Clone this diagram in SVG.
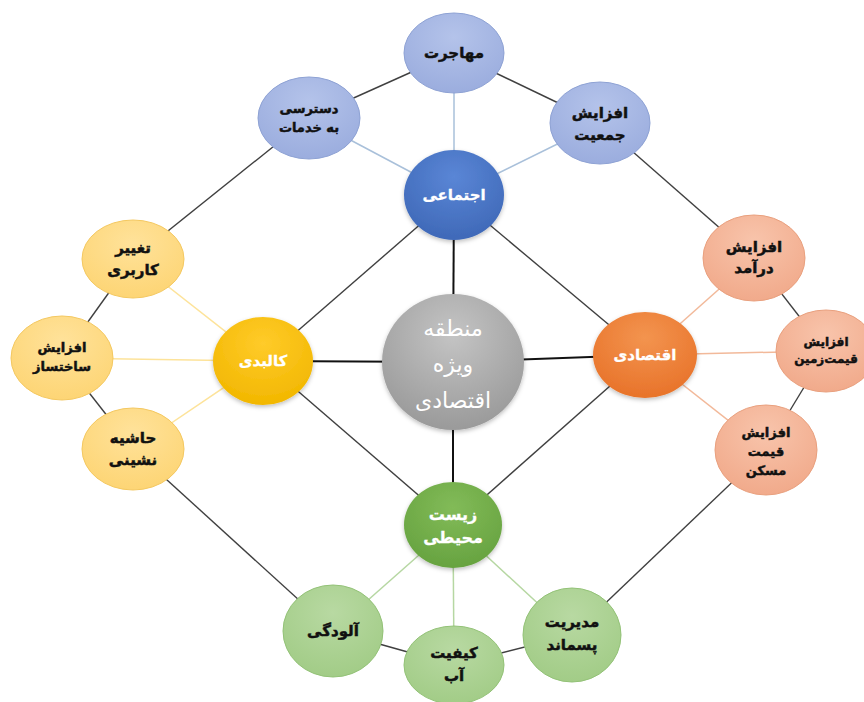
<svg xmlns="http://www.w3.org/2000/svg" width="864" height="702" viewBox="0 0 864 702">
<defs>
<radialGradient id="gCenter" cx="50%" cy="30%" r="70%"><stop offset="0" stop-color="#c4c4c4"/><stop offset="1" stop-color="#9a9a9a"/></radialGradient>
<radialGradient id="gBlue" cx="50%" cy="30%" r="70%"><stop offset="0" stop-color="#5a86d6"/><stop offset="1" stop-color="#3f69b8"/></radialGradient>
<radialGradient id="gBlueL" cx="50%" cy="30%" r="70%"><stop offset="0" stop-color="#b4c3ea"/><stop offset="1" stop-color="#9badde"/></radialGradient>
<radialGradient id="gOrange" cx="50%" cy="30%" r="70%"><stop offset="0" stop-color="#f3944f"/><stop offset="1" stop-color="#e8732a"/></radialGradient>
<radialGradient id="gOrangeL" cx="50%" cy="30%" r="70%"><stop offset="0" stop-color="#f8c4ab"/><stop offset="1" stop-color="#f1aa8b"/></radialGradient>
<radialGradient id="gYellow" cx="50%" cy="30%" r="70%"><stop offset="0" stop-color="#ffcb2a"/><stop offset="1" stop-color="#f2b700"/></radialGradient>
<radialGradient id="gYellowL" cx="50%" cy="30%" r="70%"><stop offset="0" stop-color="#ffe29a"/><stop offset="1" stop-color="#fdd575"/></radialGradient>
<radialGradient id="gGreen" cx="50%" cy="30%" r="70%"><stop offset="0" stop-color="#82bb58"/><stop offset="1" stop-color="#67a340"/></radialGradient>
<radialGradient id="gGreenL" cx="50%" cy="30%" r="70%"><stop offset="0" stop-color="#b8d9a2"/><stop offset="1" stop-color="#a2cc87"/></radialGradient>
<filter id="sh" x="-20%" y="-20%" width="140%" height="150%"><feDropShadow dx="0" dy="2" stdDeviation="2" flood-color="#000" flood-opacity="0.25"/></filter>
</defs>
<style>
.dark{stroke:#404040;stroke-width:1.4;fill:none}
.hub{stroke:#111;stroke-width:2;fill:none}
.lb{stroke:#a9c0da;stroke-width:1.5}
.ly{stroke:#fde39a;stroke-width:1.5}
.lo{stroke:#f2b99a;stroke-width:1.5}
.lg{stroke:#b6d7a2;stroke-width:1.5}
.t{font-family:"DejaVu Sans",sans-serif;font-weight:bold;font-size:14px;fill:#111;stroke:#111;stroke-width:0.5;text-anchor:middle}
.w{fill:#fff;stroke:#fff;stroke-width:0.3;font-size:15px}
.c{font-family:"DejaVu Sans",sans-serif;font-size:22px;fill:#fff;text-anchor:middle}
.sb{stroke:#8ea2d4;stroke-width:1}
.sy{stroke:#f4c860;stroke-width:1}
.so{stroke:#e9a07e;stroke-width:1}
.sg{stroke:#93c277;stroke-width:1}
</style>
<rect width="864" height="702" fill="#fff"/>
<g id="connectors">
<line class="hub" x1="453" y1="362" x2="454" y2="195"/>
<line class="hub" x1="453" y1="362" x2="263" y2="361"/>
<line class="hub" x1="453" y1="362" x2="645" y2="355"/>
<line class="hub" x1="453" y1="362" x2="453" y2="525"/>
<line class="dark" x1="454" y1="195" x2="263" y2="361"/>
<line class="dark" x1="454" y1="195" x2="645" y2="355"/>
<line class="dark" x1="263" y1="361" x2="453" y2="525"/>
<line class="dark" x1="645" y1="355" x2="453" y2="525"/>
<line class="dark" x1="454" y1="53" x2="309" y2="118"/>
<line class="dark" x1="454" y1="53" x2="600" y2="123"/>
<line class="dark" x1="309" y1="118" x2="133" y2="259"/>
<line class="dark" x1="133" y1="259" x2="62" y2="358"/>
<line class="dark" x1="62" y1="358" x2="133" y2="449"/>
<line class="dark" x1="133" y1="449" x2="333" y2="631"/>
<line class="dark" x1="333" y1="631" x2="454" y2="665"/>
<line class="dark" x1="454" y1="665" x2="572" y2="635"/>
<line class="dark" x1="572" y1="635" x2="766" y2="450"/>
<line class="dark" x1="766" y1="450" x2="826" y2="351"/>
<line class="dark" x1="826" y1="351" x2="754" y2="258"/>
<line class="dark" x1="754" y1="258" x2="600" y2="123"/>
<line class="lb" x1="454" y1="195" x2="454" y2="53"/>
<line class="lb" x1="454" y1="195" x2="309" y2="118"/>
<line class="lb" x1="454" y1="195" x2="600" y2="123"/>
<line class="ly" x1="263" y1="361" x2="133" y2="259"/>
<line class="ly" x1="263" y1="361" x2="62" y2="358"/>
<line class="ly" x1="263" y1="361" x2="133" y2="449"/>
<line class="lo" x1="645" y1="355" x2="754" y2="258"/>
<line class="lo" x1="645" y1="355" x2="826" y2="351"/>
<line class="lo" x1="645" y1="355" x2="766" y2="450"/>
<line class="lg" x1="453" y1="525" x2="333" y2="631"/>
<line class="lg" x1="453" y1="525" x2="454" y2="665"/>
<line class="lg" x1="453" y1="525" x2="572" y2="635"/>
</g>
<g id="center">
<ellipse cx="453" cy="362" rx="71" ry="68" fill="url(#gCenter)" filter="url(#sh)"/>
<text class="c" x="453" y="336">منطقه</text>
<text class="c" x="453" y="372">ویژه</text>
<text class="c" x="453" y="408">اقتصادی</text>
</g>
<g id="social">
<ellipse cx="454" cy="195" rx="50" ry="45" fill="url(#gBlue)" filter="url(#sh)"/>
<text class="t w" x="454" y="200">اجتماعی</text>
</g>
<g id="physical">
<ellipse cx="263" cy="361" rx="50" ry="44" fill="url(#gYellow)" filter="url(#sh)"/>
<text class="t w" x="263" y="366">کالبدی</text>
</g>
<g id="economic">
<ellipse cx="645" cy="355" rx="52" ry="43" fill="url(#gOrange)" filter="url(#sh)"/>
<text class="t w" x="645" y="360">اقتصادی</text>
</g>
<g id="environmental">
<ellipse cx="453" cy="525" rx="49" ry="43" fill="url(#gGreen)" filter="url(#sh)"/>
<text class="t w" x="453" y="520" style="font-size:16px">زیست</text>
<text class="t w" x="453" y="543" style="font-size:16px">محیطی</text>
</g>
<g id="migration">
<ellipse class="sb" cx="454" cy="53" rx="50" ry="40" fill="url(#gBlueL)"/>
<text class="t" x="454" y="58" style="font-size:15px">مهاجرت</text>
</g>
<g id="access">
<ellipse class="sb" cx="309" cy="118" rx="51" ry="41" fill="url(#gBlueL)"/>
<text class="t" x="309" y="113" style="font-size:13px">دسترسی</text>
<text class="t" x="309" y="132" style="font-size:13px">به خدمات</text>
</g>
<g id="population">
<ellipse class="sb" cx="600" cy="123" rx="50" ry="41" fill="url(#gBlueL)"/>
<text class="t" x="600" y="118" style="font-size:15px">افزایش</text>
<text class="t" x="600" y="140" style="font-size:15px">جمعیت</text>
</g>
<g id="landuse">
<ellipse class="sy" cx="133" cy="259" rx="51" ry="39" fill="url(#gYellowL)"/>
<text class="t" x="133" y="253" style="font-size:15px">تغییر</text>
<text class="t" x="133" y="275" style="font-size:15px">کاربری</text>
</g>
<g id="construction">
<ellipse class="sy" cx="62" cy="358" rx="51" ry="42" fill="url(#gYellowL)"/>
<text class="t" x="62" y="352" style="font-size:13px">افزایش</text>
<text class="t" x="62" y="371" style="font-size:13px">ساختساز</text>
</g>
<g id="marginal">
<ellipse class="sy" cx="133" cy="449" rx="51" ry="41" fill="url(#gYellowL)"/>
<text class="t" x="133" y="443" style="font-size:15px">حاشیه</text>
<text class="t" x="133" y="465" style="font-size:15px">نشینی</text>
</g>
<g id="income">
<ellipse class="so" cx="754" cy="258" rx="51" ry="43" fill="url(#gOrangeL)"/>
<text class="t" x="754" y="252" style="font-size:15px">افزایش</text>
<text class="t" x="754" y="273" style="font-size:15px">درآمد</text>
</g>
<g id="landprice">
<ellipse class="so" cx="826" cy="351" rx="50" ry="41" fill="url(#gOrangeL)"/>
<text class="t" x="826" y="346" style="font-size:12px">افزایش</text>
<text class="t" x="826" y="363" style="font-size:12px">قیمت‌زمین</text>
</g>
<g id="houseprice">
<ellipse class="so" cx="766" cy="450" rx="51" ry="45" fill="url(#gOrangeL)"/>
<text class="t" x="766" y="437" style="font-size:13px">افزایش</text>
<text class="t" x="766" y="456" style="font-size:13px">قیمت</text>
<text class="t" x="766" y="475" style="font-size:13px">مسکن</text>
</g>
<g id="pollution">
<ellipse class="sg" cx="333" cy="631" rx="50" ry="46" fill="url(#gGreenL)"/>
<text class="t" x="333" y="636" style="font-size:15px">آلودگی</text>
</g>
<g id="water">
<ellipse class="sg" cx="454" cy="665" rx="50" ry="39" fill="url(#gGreenL)"/>
<text class="t" x="454" y="658" style="font-size:15px">کیفیت</text>
<text class="t" x="454" y="681" style="font-size:15px">آب</text>
</g>
<g id="waste">
<ellipse class="sg" cx="572" cy="635" rx="49" ry="47" fill="url(#gGreenL)"/>
<text class="t" x="572" y="627" style="font-size:15px">مدیریت</text>
<text class="t" x="572" y="650" style="font-size:15px">پسماند</text>
</g>
</svg>
